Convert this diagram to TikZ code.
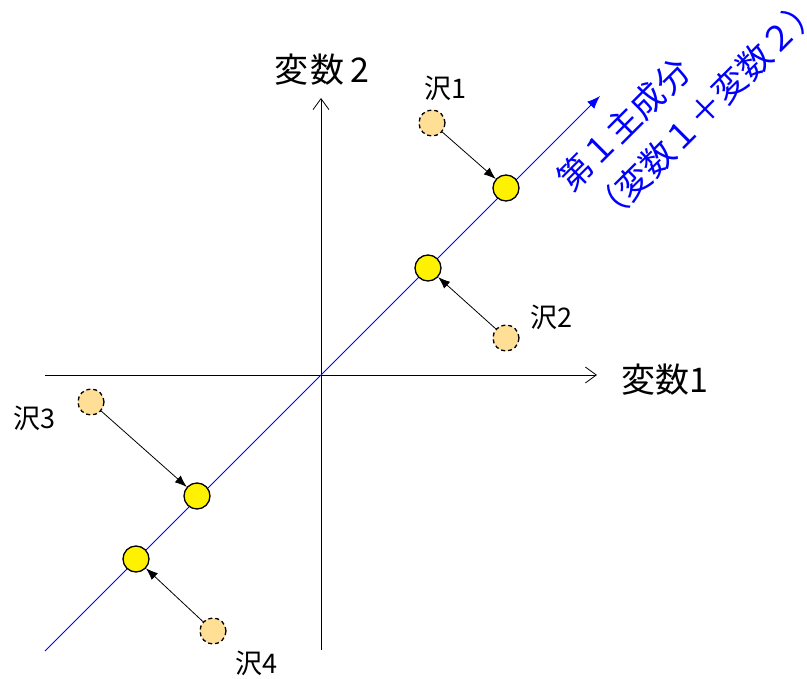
\documentclass[tikz,border=0pt]{standalone}
\usepackage{fontspec}
\setmainfont{Noto Sans CJK JP}
\usetikzlibrary{arrows.meta}
\definecolor{peach}{RGB}{255,222,150}
\definecolor{pcblue}{RGB}{0,0,255}
\tikzset{
  axis/.style={line width=0.8pt,-{Straight Barb[length=11pt,width=16pt,line width=0.8pt]}},
  proj/.style={circle,draw=black,fill=yellow,line width=1.3pt,minimum size=26pt,inner sep=0pt},
  obs/.style={circle,draw=black,dashed,dash pattern=on 4pt off 3pt,fill=peach,line width=1.3pt,minimum size=26pt,inner sep=0pt},
  link/.style={line width=0.8pt,-{Latex[length=12pt,width=9pt]}},
  lbl/.style={font=\fontsize{27}{30}\selectfont,inner sep=0pt},
  axlbl/.style={font=\fontsize{34}{40}\selectfont,inner sep=0pt},
  pclbl/.style={font=\fontsize{34}{48}\selectfont,text=pcblue,inner sep=0pt,rotate=45,align=left}
}
\begin{document}
\begin{tikzpicture}[x=1pt,y=-1pt]
\useasboundingbox (0,0) rectangle (807,679);
% axes
\coordinate (xs) at (45,375);
\coordinate (xe) at (597,375);
\coordinate (ys) at (321,650);
\coordinate (ye) at (321,98);
\draw[axis] (xs) -- (xe);
\draw[axis] (ys) -- (ye);
% principal component line
\coordinate (ps) at (45,651);
\coordinate (pe) at (600,96);
\draw[pcblue,line width=0.9pt,-{Latex[length=13pt,width=10pt]}] (ps) -- (pe);
% projected points
\node[proj] (p1) at (506,188) {};
\node[proj] (p2) at (428,268) {};
\node[proj] (p3) at (197,496) {};
\node[proj] (p4) at (136,559) {};
% observed points
\node[obs] (o1) at (432,123) {};
\node[obs] (o2) at (506,338) {};
\node[obs] (o3) at (91,402) {};
\node[obs] (o4) at (213,631) {};
% links
\draw[link] (o1) -- (p1);
\draw[link] (o2) -- (p2);
\draw[link] (o3) -- (p3);
\draw[link] (o4) -- (p4);
% labels
\node[lbl] (l1) at (445,88) {沢1};
\node[lbl] (l2) at (551,317) {沢2};
\node[lbl] (l3) at (34,418) {沢3};
\node[lbl] (l4) at (256,663) {沢4};
\node[axlbl] (v2) at (322,70) {変\kern2pt数\kern6pt2};
\node[axlbl] (v1) at (665,380) {変数1};
\node[pclbl] (pc) at (689,93) {第１主成分\\（変数１＋変数２）};
\end{tikzpicture}
\end{document}
